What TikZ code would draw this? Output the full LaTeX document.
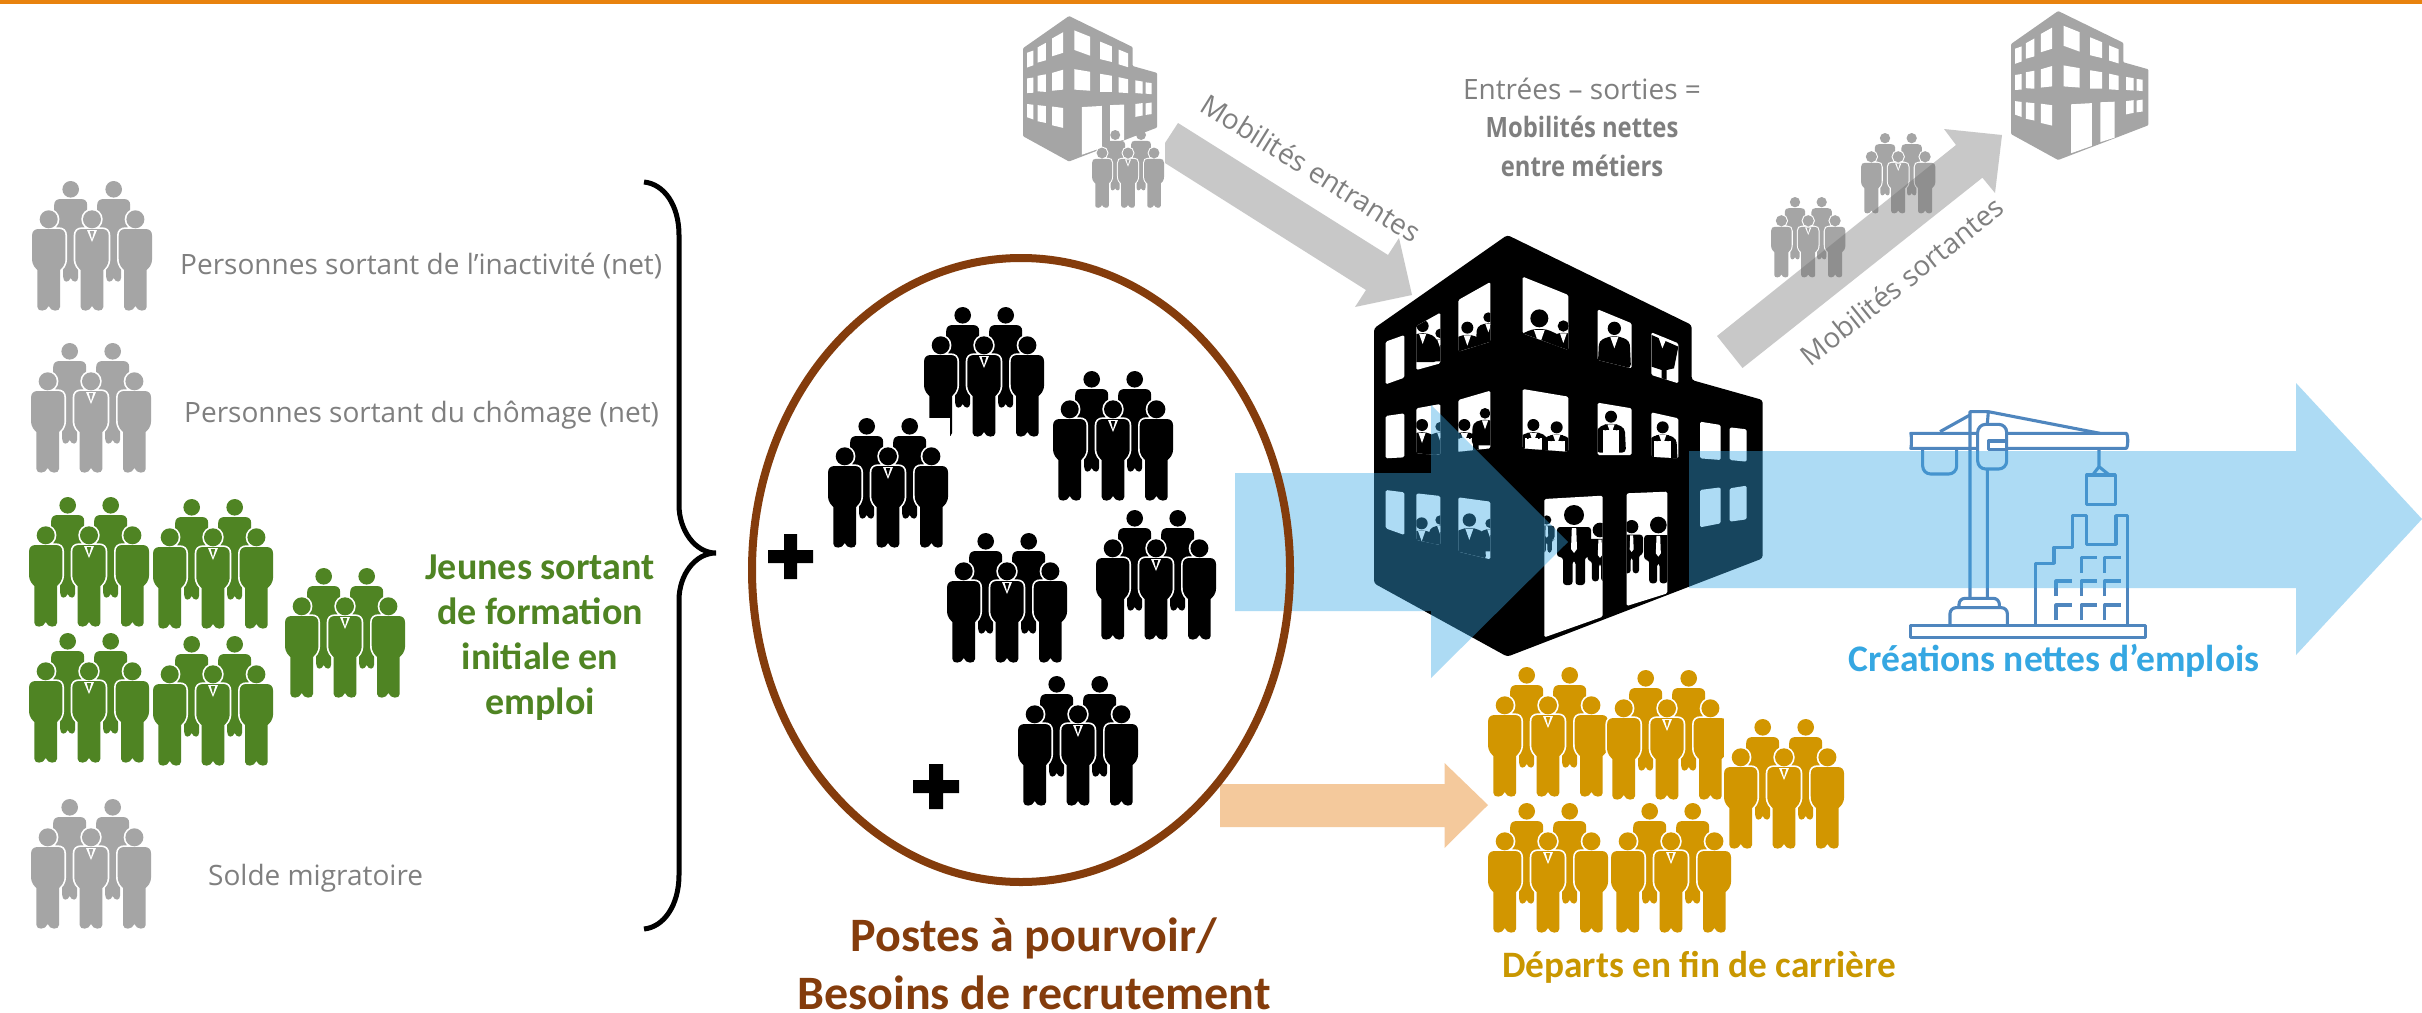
\documentclass[tikz,border=0pt]{standalone}
\usepackage{fontspec}
\setmainfont{Open Sans}
\newfontfamily\calib{Carlito}
\definecolor{gr}{HTML}{A5A5A5}
\definecolor{grtxt}{HTML}{7F7F7F}
\definecolor{grn}{HTML}{4F8423}
\definecolor{gold}{HTML}{D29600}
\definecolor{goldtxt}{HTML}{C99700}
\definecolor{brn}{HTML}{843C0C}
\definecolor{bluearrow}{HTML}{38A8E5}
\definecolor{bluetxt}{HTML}{35A7E2}
\definecolor{crane}{HTML}{4F86BE}
\definecolor{orangebar}{HTML}{E8820E}
\definecolor{peach}{HTML}{F4C99C}
\definecolor{arrowgrey}{HTML}{6A6A6A}
\tikzset{
  x=1pt,y=-1pt,
  bluearr/.style={fill=bluearrow,fill opacity=.41},
  greyarr/.style={fill=arrowgrey,fill opacity=.37},
  plain/.style={font=\fontsize{28}{32}\selectfont,text=grtxt,inner sep=0pt},
  strong/.style={font=\calib\bfseries\fontsize{38}{45}\selectfont,inner sep=0pt,align=center},
  cranel/.style={draw=crane,line width=3.1pt,line join=round},
}
% one person seen from the front, centred on #1
\newcommand\manpath[1]{
  (#1-11.3,89) -- (#1-11.3,126) .. controls (#1-11.3,131) and (#1-2,131) .. (#1,125)
  .. controls (#1+2,131) and (#1+11.3,131) .. (#1+11.3,126) -- (#1+11.3,89)
  .. controls (#1+13,87) and (#1+16.7,85) .. (#1+16.7,77) -- (#1+16.7,55)
  .. controls (#1+16.7,50) and (#1+14,48) .. (#1+10,48) -- (#1-10,48)
  .. controls (#1-14,48) and (#1-16.7,50) .. (#1-16.7,55) -- (#1-16.7,77)
  .. controls (#1-16.7,85) and (#1-13,87) .. (#1-11.3,89) -- cycle}
\newcommand\backman[1]{
  (#1-7.5,96) .. controls (#1-7.5,102) and (#1-2,102) .. (#1,97)
  .. controls (#1+2,102) and (#1+7.5,102) .. (#1+7.5,96) -- (#1+7.5,70)
  -- (#1+16.5,42) -- (#1+16.5,24) .. controls (#1+16.5,20) and (#1+14,18) .. (#1+10,18)
  -- (#1-10,18) .. controls (#1-14,18) and (#1-16.5,20) .. (#1-16.5,24)
  -- (#1-16.5,42) -- (#1-7.5,70) -- cycle}
% \crowd{left}{top}{scale}{colour}
\newcommand\crowd[4]{
  \begin{scope}[shift={(#1,#2)},scale=#3]
    \fill[#4] (38.7,8.3) circle (8.3) (81.7,8.3) circle (8.3);
    \fill[#4] \backman{38.7} \backman{81.7};
    \draw[white,line width=#3*3.4pt]
      \manpath{16.7} \manpath{60} \manpath{103.4}
      (16.7,38.3) circle (9) (60,38.3) circle (9) (103.4,38.3) circle (9);
    \fill[#4]
      \manpath{16.7} \manpath{60} \manpath{103.4}
      (16.7,38.3) circle (9) (60,38.3) circle (9) (103.4,38.3) circle (9);
    \fill[white] (55,49) -- (60,61) -- (65,49) -- cycle;
    \fill[#4] (57.8,50) -- (62.2,50) -- (60,58) -- cycle;
  \end{scope}}
% window: white polygon, with clipped contents
\newcommand\win[2]{
  \fill[white,rounded corners=1.5pt] #1;
  \begin{scope}\clip #1; #2 \end{scope}}
% bust seen in a window
\newcommand\bust[3]{
  \fill[black] (#1,#2) circle (#3);
  \fill[black,rounded corners=4pt] (#1-2.5*#3,#2+6*#3) -- (#1-2.3*#3,#2+1.9*#3) -- (#1-.8*#3,#2+1.2*#3)
     -- (#1+.8*#3,#2+1.2*#3) -- (#1+2.3*#3,#2+1.9*#3) -- (#1+2.5*#3,#2+6*#3) -- cycle;
  \fill[white] (#1-.6*#3,#2+1.3*#3) -- (#1,#2+3*#3) -- (#1+.6*#3,#2+1.3*#3) -- cycle;
}
% worker with a white apron in a window
\newcommand\apron[3]{
  \bust{#1}{#2}{#3}
  \fill[white] (#1-1.4*#3,#2+2.2*#3) rectangle (#1+1.4*#3,#2+6*#3);
  \fill[black] (#1-1.05*#3,#2+1.3*#3) rectangle (#1-.8*#3,#2+2.3*#3)
               (#1+.8*#3,#2+1.3*#3) rectangle (#1+1.05*#3,#2+2.3*#3);
}
% full figure through a door
\newcommand\full[3]{
  \fill[black] (#1,#2) circle (#3);
  \fill[black,rounded corners=3pt] (#1-1.7*#3,#2+1.2*#3) -- (#1+1.7*#3,#2+1.2*#3) -- (#1+1.7*#3,#2+4.2*#3)
     -- (#1+1.1*#3,#2+4.2*#3) -- (#1+1.1*#3,#2+7*#3) -- (#1+.15*#3,#2+7*#3) -- (#1+.15*#3,#2+4.6*#3)
     -- (#1-.15*#3,#2+4.6*#3) -- (#1-.15*#3,#2+7*#3) -- (#1-1.1*#3,#2+7*#3) -- (#1-1.1*#3,#2+4.2*#3)
     -- (#1-1.7*#3,#2+4.2*#3) -- cycle;
  \fill[white] (#1-.22*#3,#2+1.3*#3) -- (#1+.22*#3,#2+1.3*#3) -- (#1+.3*#3,#2+3.4*#3) -- (#1,#2+3.8*#3) -- (#1-.3*#3,#2+3.4*#3) -- cycle;
}
\newcommand\bldshell{
  (472,105) -- (1025,375) -- (1025,540) -- (1238,600) -- (1238,1075) -- (472,1370) -- (72,1150) -- (72,385) -- cycle}
\def\wA{(107,425)--(163,405)--(163,533)--(107,553)--cycle}
\def\wB{(199,378)--(271,338)--(271,490)--(199,510)--cycle}
\def\wC{(325,300)--(421,246)--(421,425)--(325,455)--cycle}
\def\wD{(518,230)--(655,285)--(655,450)--(518,400)--cycle}
\def\wE{(743,328)--(845,370)--(845,505)--(743,480)--cycle}
\def\wF{(904,397)--(985,430)--(985,550)--(904,525)--cycle}
\def\wG{(107,648)--(163,640)--(163,772)--(107,775)--cycle}
\def\wH{(199,625)--(271,612)--(271,765)--(199,760)--cycle}
\def\wI{(325,600)--(421,572)--(421,745)--(325,755)--cycle}
\def\wJ{(518,567)--(655,590)--(655,755)--(518,745)--cycle}
\def\wK{(743,608)--(845,625)--(845,765)--(743,765)--cycle}
\def\wL{(904,637)--(985,655)--(985,775)--(904,770)--cycle}
\def\wM{(1050,665)--(1112,675)--(1112,780)--(1050,775)--cycle}
\def\wN{(1139,682)--(1190,688)--(1190,785)--(1139,780)--cycle}
\def\wO{(107,870)--(163,877)--(163,1005)--(107,985)--cycle}
\def\wP{(199,880)--(271,888)--(271,1035)--(199,1020)--cycle}
\def\wQ{(325,892)--(421,905)--(421,1078)--(325,1055)--cycle}
\def\wR{(583,897)--(758,887)--(758,1250)--(583,1312)--cycle}
\def\wS{(830,880)--(952,875)--(952,1180)--(830,1218)--cycle}
\def\wT{(1050,870)--(1112,862)--(1112,970)--(1050,982)--cycle}
\def\wU{(1139,865)--(1190,857)--(1190,958)--(1139,965)--cycle}
% plain (grey) building: #1 left, #2 top, #3 scale
\newcommand\greybuilding[3]{
  \begin{scope}[shift={(#1,#2)},scale=#3,shift={(-72,-105)}]
    \fill[gr,rounded corners=1pt] \bldshell;
    \fill[white] \wA \wB \wC \wD \wE \wF \wG \wH \wI \wJ \wK \wL \wM \wN \wO \wP \wQ \wR \wS \wT \wU;
  \end{scope}}
\begin{document}
\begin{tikzpicture}
\useasboundingbox (0,0) rectangle (2422,1012);
\fill[white] (0,0) rectangle (2422,1012);
\fill[orangebar] (0,0) rectangle (2422,4);

% left groups
\crowd{32}{181}{1}{gr}
\crowd{31}{343}{1}{gr}
\crowd{29}{497}{1}{grn}
\crowd{153}{499}{1}{grn}
\crowd{29}{633}{1}{grn}
\crowd{153}{636}{1}{grn}
\crowd{285}{568}{1}{grn}
\crowd{31}{799}{1}{gr}

\node[plain,anchor=west] (inact) at (180,266) {Personnes sortant de l’inactivité (net)};
\node[plain,anchor=west] (chom) at (184,415) {Personnes sortant du chômage (net)};
\node[plain,anchor=west] (solde) at (208,878) {Solde migratoire};
\node[strong,text=grn] (jeunes) at (540,638) {Jeunes sortant\\de formation\\initiale en\\emploi};

% brace
\draw[black,line width=5pt] (644,182) .. controls (664,184) and (679,205) .. (679,235) -- (679,505)
  .. controls (679,530) and (695,553) .. (716,553) .. controls (695,553) and (679,575) .. (679,600)
  -- (679,875) .. controls (679,905) and (664,927) .. (644,929);

% black groups
\crowd{924}{307}{1}{black}
\fill[white] (928,418) rectangle (949.5,437.5);
\crowd{1053}{371}{1}{black}
\crowd{828}{418}{1}{black}
\crowd{1096}{510}{1}{black}
\crowd{947}{533}{1}{black}
\crowd{1018}{676}{1}{black}
% plus signs
\fill[black] (768,550) rectangle (813,563) (784,534) rectangle (797,579);
\fill[black] (913,780) rectangle (959,793) (929,764) rectangle (943,809);

% orange arrow
\fill[peach] (1220,784) -- (1444.5,784) -- (1444.5,763) -- (1488,805) -- (1444.5,848) -- (1444.5,827) -- (1220,827) -- cycle;

% gold groups
\crowd{1488}{667}{1}{gold}
\crowd{1607}{670}{1}{gold}
\fill[white] (1724,700) rectangle (1730,800);
\crowd{1724}{719}{1}{gold}
\crowd{1488}{803}{1}{gold}
\crowd{1611}{803}{1}{gold}
\node[font=\calib\bfseries\fontsize{37.3}{40}\selectfont,text=goldtxt,inner sep=0pt] (departs) at (1699,967) {Départs en fin de carrière};

% main building
\begin{scope}[shift={(1350,200)},scale=1/3]
  \fill[black,rounded corners=3pt] \bldshell;
  \win{\wA}{}
  \win{\wB}{\bust{218}{378}{18}\bust{270}{400}{14}}
  \win{\wC}{\bust{352}{383}{18}\bust{415}{352}{15}}
  \win{\wD}{\bust{568}{355}{27}\bust{640}{378}{17}}
  \win{\wE}{\bust{793}{385}{20}}
  \win{\wF}{\fill[black] (905,405)--(985,440)--(972,505)--(950,510)--(950,540)--(935,540)--(935,510)--(905,500)--cycle;
     \fill[white] (925,410)--(937,445)--(950,415)--cycle;}
  \win{\wG}{}
  \win{\wH}{\bust{216}{675}{18}\bust{270}{680}{14}}
  \win{\wI}{\apron{343}{675}{18}\bust{405}{640}{16}}
  \win{\wJ}{\apron{550}{675}{18}\apron{620}{682}{18}}
  \win{\wK}{\apron{783}{650}{18}}
  \win{\wL}{\apron{938}{682}{18}}
  \win{\wM}{}
  \win{\wN}{}
  \win{\wO}{}
  \win{\wP}{\bust{215}{970}{18}\bust{270}{960}{14}}
  \win{\wQ}{\bust{358}{960}{20}\bust{420}{970}{14}}
  \win{\wR}{\full{590}{960}{14}\full{672}{945}{30}\full{750}{990}{22}}
  \win{\wS}{\full{845}{980}{20}\full{925}{975}{25}}
  \win{\wT}{}
  \win{\wU}{}
\end{scope}

% grey buildings and their people
\greybuilding{1023}{16}{.115}
\greybuilding{2011}{11}{.1178}
\crowd{1092}{130}{.6}{gr}
\crowd{1861}{133}{.62}{gr}
\crowd{1771}{197}{.62}{gr}

% grey arrows
\fill[greyarr] (1178,123) -- (1388,255) -- (1399,238) -- (1412,295) -- (1355,307) -- (1366,290) -- (1165,163) -- (1165,143) -- cycle;
\fill[greyarr] (1717,336) -- (1956,145) -- (1944,129) -- (2002,135) -- (1995,193) -- (1982.4,177.7) -- (1742.5,368) -- cycle;
\node[plain,rotate=-32] (entr) at (1311,168) {Mobilités entrantes};
\node[plain,rotate=38.6] (sort) at (1902,281) {Mobilités sortantes};
\node[font=\fontsize{28}{38.5}\selectfont,text=grtxt,inner sep=0pt,align=center] (nettes) at (1582,127)
  {Entrées – sorties =\hspace{37pt}\\\scalebox{.85}[1]{\textbf{Mobilités nettes}}\\\scalebox{.85}[1]{\textbf{entre métiers}}};

% crane
\begin{scope}[shift={(1860,370)},scale=1/3]
  \draw[cranel] (152,766) rectangle (856,802);
  \draw[cranel] (330,685) -- (330,125) -- (385,125) -- (382,160) (382,297) -- (382,685);
  \draw[cranel,rounded corners=6pt] (353,190) -- (170,190) .. controls (155,190) and (155,235) .. (170,235) -- (353,235)
     (440,190) -- (780,190) .. controls (805,190) and (805,235) .. (780,235) -- (440,235);
  \draw[cranel] (240,185) -- (330,135) (385,125) -- (720,190);
  \draw[cranel,rounded corners=8pt] (353,163) rectangle (440,297);
  \draw[cranel] (440,213) -- (385,213) -- (385,238) -- (440,238);
  \draw[cranel,rounded corners=8pt] (188,235) -- (188,312) -- (290,312) -- (290,235);
  \draw[cranel] (717,235) -- (717,290) (698,315) -- (717,290) -- (748,315);
  \draw[cranel] (680,315) rectangle (766,403);
  \draw[cranel] (526,766) -- (526,580) -- (582,580) -- (582,532) -- (638,532) -- (638,437) -- (680,437) -- (680,523) -- (768,523) -- (768,437) -- (803,437) -- (803,766);
  \foreach \gx/\gy in {664/563,734/563,588/633,664/633,734/633,588/705,664/705,734/705}
    \draw[cranel] (\gx,\gy+45) -- (\gx,\gy) -- (\gx+48,\gy);
  \draw[cranel,rounded corners=6pt] (270,766) -- (270,713) -- (442,713) -- (442,766);
  \draw[cranel,rounded corners=6pt] (297,713) -- (297,685) -- (418,685) -- (418,713);
\end{scope}

% blue arrows
\fill[bluearr] (1235,473) -- (1431,473) -- (1431,405) -- (1568,542) -- (1431,678) -- (1431,611) -- (1235,611) -- cycle;
\fill[bluearr] (1689,451) -- (2296,451) -- (2296,383) -- (2422,519) -- (2296,655) -- (2296,588) -- (1689,588) -- cycle;

% circle on top
\coordinate (besoins) at (1021,570);
\draw[brn,line width=8pt] (besoins) circle [x radius=269,y radius=312];

\node[strong,text=brn,font=\calib\bfseries\fontsize{48}{58}\selectfont] (postes) at (1034,964) {Postes à pourvoir/\\Besoins de recrutement};
\node[font=\calib\bfseries\fontsize{37.5}{42}\selectfont,text=bluetxt,inner sep=0pt] (creat) at (2054,661) {Créations nettes d’emplois};
\end{tikzpicture}
\end{document}
